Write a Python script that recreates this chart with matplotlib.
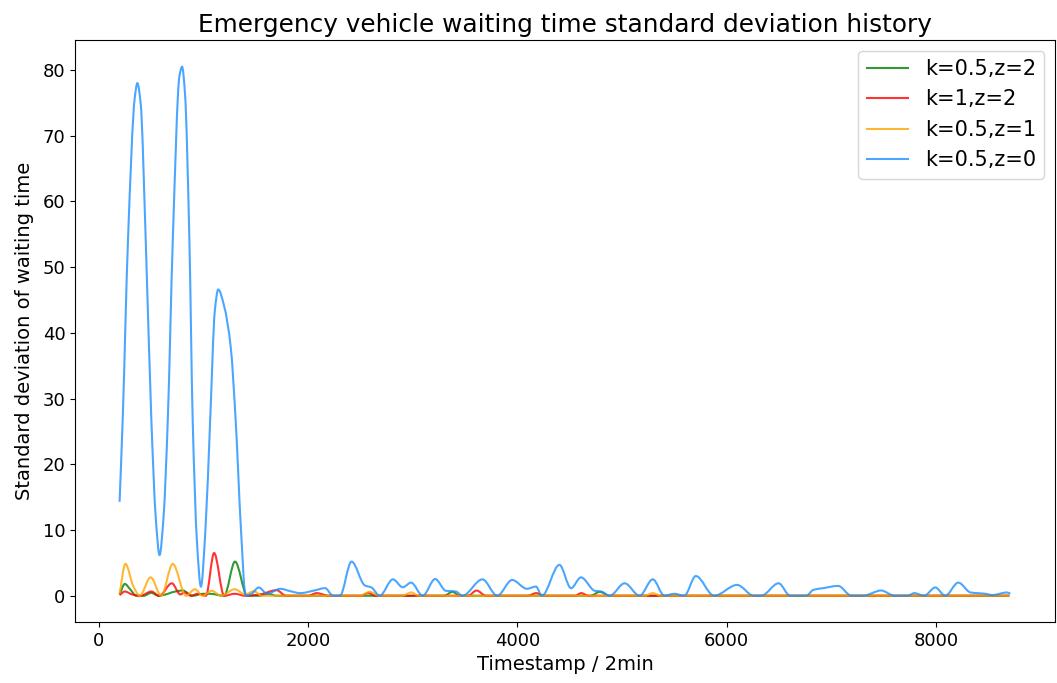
import numpy as np
import matplotlib
matplotlib.use("Agg")
import matplotlib.pyplot as plt
from matplotlib.path import Path
from matplotlib.patches import PathPatch
from matplotlib.lines import Line2D

# ---------------- data ----------------
labels = ["k=0.5,z=2", "k=1,z=2", "k=0.5,z=1", "k=0.5,z=0"]
colors = ["green", "red", "orange", "dodgerblue"]

green_t = [200, 250, 300, 360, 430, 503, 570, 640, 720, 803, 898, 1000, 1060, 1199,
           1303, 1420, 1530, 1620, 1700, 1790, 3300, 3381, 3450, 4700, 4788, 4880, 8700]
green_v = [0.2, 1.8, 1.0, 0.0, 0.0, 0.45, 0.0, 0.2, 0.6, 0.8, 0.0, 0.3, 0.3, 0.0,
           5.2, 0.0, 0.0, 0.3, 0.0, 0.0, 0.0, 0.6, 0.0, 0.0, 0.6, 0.0, 0.0]

red_t = [200, 250, 320, 400, 503, 580, 699, 780, 820, 880, 950, 1025, 1103, 1199,
         1300, 1400, 1540, 1700, 1790, 2000, 2084, 2200, 2500, 2574, 2650, 3530,
         3610, 3700, 4100, 4180, 4260, 4550, 4610, 4680, 8700]
red_v = [0.1, 0.65, 0.2, 0.0, 0.65, 0.0, 1.9, 0.2, 0.5, 0.0, 0.3, 0.0, 6.5, 0.0,
         0.3, 0.0, 0.2, 0.85, 0.0, 0.0, 0.4, 0.0, 0.0, 0.4, 0.0, 0.0,
         0.8, 0.0, 0.0, 0.4, 0.0, 0.0, 0.4, 0.0, 0.0]

orange_t = [200, 256, 330, 392, 497, 598, 708, 835, 920, 993, 1080, 1170, 1300,
            1400, 1483, 1560, 2500, 2590, 2680, 2900, 2985, 3060, 5220, 5294, 5370, 8700]
orange_v = [0.3, 4.85, 1.5, 0.0, 2.8, 0.0, 4.85, 0.0, 1.0, 0.0, 0.75, 0.0, 1.0,
            0.2, 0.7, 0.0, 0.0, 0.6, 0.0, 0.0, 0.5, 0.0, 0.0, 0.4, 0.0, 0.0]

blue_t = [200, 230, 280, 345, 370, 402, 450, 503, 545, 582, 620, 661, 708, 772, 797,
          825, 867, 898, 940, 977, 1020, 1066, 1110, 1142, 1200, 1262, 1309, 1360,
          1404, 1460, 1530, 1610, 1736, 1830, 1926, 2060, 2163, 2240, 2305, 2416,
          2543, 2606, 2685, 2811, 2906, 2985, 3096, 3215, 3318, 3413, 3476, 3666,
          3808, 3950, 4092, 4178, 4234, 4402, 4513, 4608, 4741, 4800, 4883, 5025,
          5168, 5294, 5405, 5500, 5595, 5705, 5880, 6100, 6259, 6330, 6496, 6606,
          6760, 6828, 6923, 7065, 7192, 7303, 7476, 7603, 7729, 7792, 7887, 7993,
          8088, 8213, 8330, 8472, 8535, 8678, 8710]
blue_v = [14.3, 27, 54, 75.8, 78, 74.8, 54, 27, 12, 6.2, 12, 27, 54, 79.1, 80.5,
          76.4, 54, 27, 8, 1.4, 10, 27, 43.4, 46.6, 44, 37.8, 26.7, 10,
          0, 0.3, 1.26, 0.3, 1.06, 0.7, 0.4, 0.8, 1.16, 0, 0, 5.2,
          1.57, 1.26, 0, 2.5, 1.3, 2.0, 0, 2.55, 0.75, 0.65, 0, 2.5,
          0, 2.4, 1.06, 1.4, 0, 4.7, 1.16, 2.8, 0.75, 0.65, 0, 1.9,
          0, 2.5, 0, 0.3, 0, 3.0, 0, 1.65, 0, 0, 1.9, 0,
          0, 0.9, 1.16, 1.5, 0, 0, 0.8, 0, 0, 0.4, 0, 1.26,
          0, 2.0, 0.5, 0.3, 0.1, 0.5, 0.3]

series_t = [green_t, red_t, orange_t, blue_t]
series_v = [green_v, red_v, orange_v, blue_v]


def smooth_path(x, y):
    """Monotone cubic (Fritsch-Carlson) Bezier path through the data points."""
    x = np.asarray(x, float)
    y = np.asarray(y, float)
    h = np.diff(x)
    d = np.diff(y) / h
    n = len(x)
    m = np.zeros(n)
    m[0], m[-1] = d[0], d[-1]
    for k in range(1, n - 1):
        if d[k - 1] * d[k] <= 0:
            m[k] = 0.0
        else:
            w1 = 2 * h[k] + h[k - 1]
            w2 = h[k] + 2 * h[k - 1]
            m[k] = (w1 + w2) / (w1 / d[k - 1] + w2 / d[k])
    verts = [(x[0], y[0])]
    codes = [Path.MOVETO]
    for i in range(n - 1):
        verts += [(x[i] + h[i] / 3, y[i] + m[i] * h[i] / 3),
                  (x[i + 1] - h[i] / 3, y[i + 1] - m[i + 1] * h[i] / 3),
                  (x[i + 1], y[i + 1])]
        codes += [Path.CURVE4] * 3
    return Path(verts, codes)


fig = plt.figure(figsize=(10.57, 6.83), dpi=100)
ax = fig.add_axes([0.071, 0.089, 0.927, 0.852])

handles = []
for t, v, c, lab in zip(series_t, series_v, colors, labels):
    p = PathPatch(smooth_path(t, v), fill=False, edgecolor=c, lw=1.5, alpha=0.8)
    ax.add_patch(p)
    handles.append(Line2D([], [], color=c, lw=1.5, alpha=0.8, label=lab))

all_t = np.concatenate([np.asarray(t, float) for t in series_t])
all_v = np.concatenate([np.asarray(v, float) for v in series_v])
xr = all_t.max() - all_t.min()
yr = all_v.max() - all_v.min()
ax.set_xlim(all_t.min() - 0.05 * xr, all_t.max() + 0.05 * xr)
ax.set_ylim(all_v.min() - 0.05 * yr, all_v.max() + 0.05 * yr)
ax.set_xticks([0, 2000, 4000, 6000, 8000])
ax.set_yticks(np.arange(0, 81, 10))
ax.tick_params(labelsize=13)

ax.set_title("Emergency vehicle waiting time standard deviation history", fontsize=17.8)
ax.set_xlabel("Timestamp / 2min", fontsize=14)
ax.set_ylabel("Standard deviation of waiting time", fontsize=14, labelpad=6)
ax.legend(handles=handles, loc="upper right", fontsize=15)

fig.savefig("out.png", dpi=100)
